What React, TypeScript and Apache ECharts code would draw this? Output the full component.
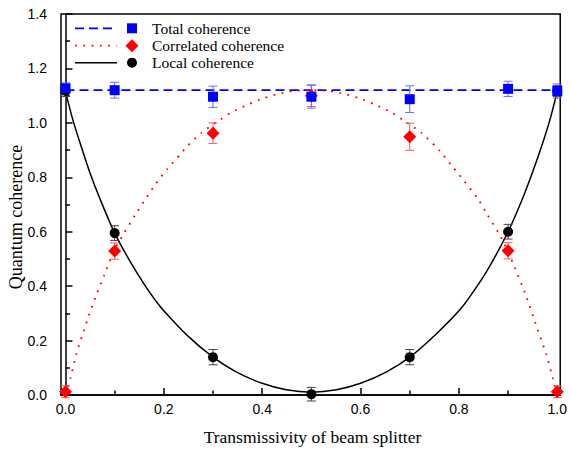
import React, { useEffect, useRef } from "react";
import * as echarts from "echarts";

// ---- data ----
const xPts = [0, 0.1, 0.3, 0.5, 0.7, 0.9, 1.0];

const totalVals = [1.127, 1.12, 1.096, 1.096, 1.087, 1.125, 1.117];
const totalErr = [0.02, 0.029, 0.039, 0.042, 0.049, 0.028, 0.026];

const corrVals = [0.012, 0.529, 0.962, 1.1, 0.949, 0.53, 0.012];
const corrErr = [0.022, 0.03, 0.038, 0.04, 0.05, 0.03, 0.022];

const localVals = [1.117, 0.595, 0.139, 0.003, 0.139, 0.6, 1.117];
const localErr = [0.02, 0.027, 0.028, 0.025, 0.028, 0.027, 0.02];

// fitted curves
const totalFitX = [0, 1];
const totalFitY = [1.12, 1.12];

const localFitX = [0, 0.015, 0.032, 0.05, 0.071, 0.1, 0.146, 0.193, 0.247, 0.3, 0.348, 0.4, 0.449, 0.5,
  0.551, 0.6, 0.652, 0.7, 0.756, 0.807, 0.854, 0.9, 0.929, 0.951, 0.968, 0.985, 1];
const localFitY = [1.115, 1.011, 0.913, 0.815, 0.717, 0.595, 0.447, 0.324, 0.22, 0.139, 0.084, 0.043, 0.019, 0.01,
  0.019, 0.043, 0.084, 0.139, 0.228, 0.324, 0.447, 0.6, 0.72, 0.825, 0.913, 1.011, 1.115];

const corrFitX = [0, 0.01, 0.022, 0.042, 0.061, 0.079, 0.1, 0.116, 0.142, 0.161, 0.183, 0.207, 0.234, 0.247, 0.277, 0.309,
  0.339, 0.372, 0.402, 0.432, 0.463, 0.5, 0.537, 0.568, 0.598, 0.628, 0.661, 0.691, 0.723, 0.753, 0.761, 0.787,
  0.8, 0.839, 0.858, 0.884, 0.91, 0.936, 0.958, 0.978, 0.991, 1];
const corrFitY = [0.0, 0.061, 0.15, 0.262, 0.36, 0.441, 0.535, 0.585, 0.662, 0.715, 0.775, 0.83, 0.886, 0.913, 0.964, 1.005,
  1.04, 1.068, 1.09, 1.106, 1.117, 1.12, 1.117, 1.106, 1.09, 1.068, 1.04, 1.005, 0.964, 0.913, 0.897, 0.839,
  0.811, 0.72, 0.662, 0.585, 0.484, 0.367, 0.251, 0.147, 0.061, 0.0];

const xMajor = [0, 0.2, 0.4, 0.6, 0.8, 1.0];
const xMinor = [0.1, 0.3, 0.5, 0.7, 0.9];

const legendItems = ["Total coherence", "Correlated coherence", "Local coherence"];
const xTitle = "Transmissivity of beam splitter";
const yTitle = "Quantum coherence";

const X_MIN = -0.0091;
const X_MAX = 1.006;

const SERIF = "'Liberation Serif', 'Times New Roman', serif";
const SANS = "'Liberation Sans', Arial, sans-serif";

function errSeries(vals: number[], errs: number[], color: string) {
  return {
    type: "custom",
    clip: false,
    z: 3,
    encode: { x: 0, y: 1 },
    data: xPts.map((x, i) => [x, vals[i], errs[i]]),
    renderItem: (params: any, api: any) => {
      const x = api.value(0);
      const y = api.value(1);
      const e = api.value(2);
      const p0 = api.coord([x, y - e]);
      const p1 = api.coord([x, y + e]);
      const hw = 4.5;
      const style = { stroke: color, lineWidth: 1, fill: "none" };
      return {
        type: "group",
        children: [
          { type: "line", shape: { x1: p0[0], y1: p0[1], x2: p1[0], y2: p1[1] }, style },
          { type: "line", shape: { x1: p0[0] - hw, y1: p0[1], x2: p0[0] + hw, y2: p0[1] }, style },
          { type: "line", shape: { x1: p1[0] - hw, y1: p1[1], x2: p1[0] + hw, y2: p1[1] }, style },
        ],
      };
    },
  };
}

export default function App() {
  const ref = useRef<HTMLDivElement>(null);
  useEffect(() => {
    if (!ref.current) return;
    const chart = echarts.init(ref.current, undefined, { renderer: "svg" });
    const axisLineStyle = { color: "#000", width: 1.5 };
    const legendY = [28.3, 45.7, 62.7];
    const legendFont = `15.5px ${SERIF}`;
    const option: any = {
      animation: false,
      backgroundColor: "#fff",
      grid: {
        left: 61, right: 6, top: 14, bottom: 56,
        show: true, borderColor: "#000", borderWidth: 1.5, backgroundColor: "transparent",
      },
      xAxis: [
        {
          type: "value", min: X_MIN, max: X_MAX, position: "bottom",
          axisLine: { show: true, lineStyle: axisLineStyle },
          axisTick: { show: true, inside: true, length: 7, customValues: xMajor, lineStyle: axisLineStyle },
          axisLabel: {
            customValues: xMajor, formatter: (v: number) => v.toFixed(1),
            color: "#000", fontFamily: SANS, fontSize: 14, margin: 7,
          },
          splitLine: { show: false },
        },
        {
          type: "value", min: X_MIN, max: X_MAX, position: "bottom", offset: 0,
          axisLine: { show: false },
          axisTick: { show: true, inside: true, length: 4.5, customValues: xMinor, lineStyle: axisLineStyle },
          axisLabel: { show: false },
          splitLine: { show: false },
        },
      ],
      yAxis: {
        type: "value", min: 0, max: 1.4, interval: 0.2,
        axisLine: { show: true, lineStyle: axisLineStyle },
        axisTick: { show: true, inside: true, length: 7, lineStyle: axisLineStyle },
        minorTick: { show: true, splitNumber: 2, length: 4.5, lineStyle: axisLineStyle },
        axisLabel: {
          formatter: (v: number) => v.toFixed(1),
          color: "#000", fontFamily: SANS, fontSize: 14, margin: 14,
        },
        splitLine: { show: false },
        minorSplitLine: { show: false },
      },
      series: [
        {
          type: "line", name: "Total fit", data: totalFitX.map((x, i) => [x, totalFitY[i]]),
          symbol: "none", z: 2,
          lineStyle: { color: "#0000ff", width: 1.8, type: [9, 5] },
        },
        {
          type: "line", name: "Correlated fit", data: corrFitX.map((x, i) => [x, corrFitY[i]]),
          symbol: "none", smooth: 0.2, z: 2,
          lineStyle: { color: "#ff0000", width: 1.8, type: [1.8, 6.5] },
        },
        {
          type: "line", name: "Local fit", data: localFitX.map((x, i) => [x, localFitY[i]]),
          symbol: "none", smooth: 0.2, z: 2,
          lineStyle: { color: "#000", width: 1.5 },
        },
        errSeries(localVals, localErr, "#444"),
        errSeries(corrVals, corrErr, "#ff5a5a"),
        errSeries(totalVals, totalErr, "#6b6bff"),
        {
          type: "scatter", name: legendItems[2], data: xPts.map((x, i) => [x, localVals[i]]),
          symbol: "circle", symbolSize: 10, z: 4, itemStyle: { color: "#000", opacity: 1 },
        },
        {
          type: "scatter", name: legendItems[1], data: xPts.map((x, i) => [x, corrVals[i]]),
          symbol: "diamond", symbolSize: 13, z: 5, itemStyle: { color: "#ff0000", opacity: 1 },
        },
        {
          type: "scatter", name: legendItems[0], data: xPts.map((x, i) => [x, totalVals[i]]),
          symbol: "rect", symbolSize: 10, z: 6, itemStyle: { color: "#0000ff", opacity: 1 },
        },
      ],
      graphic: [
        // legend
        { type: "line", shape: { x1: 75, y1: legendY[0], x2: 117, y2: legendY[0] },
          style: { stroke: "#0000ff", lineWidth: 1.8, lineDash: [9, 5] } },
        { type: "rect", shape: { x: 127, y: legendY[0] - 5, width: 10, height: 10 }, style: { fill: "#0000ff" } },
        { type: "text", x: 152, y: legendY[0],
          style: { text: legendItems[0], font: legendFont, fill: "#000", verticalAlign: "middle", align: "left" } },
        { type: "line", shape: { x1: 75, y1: legendY[1], x2: 117, y2: legendY[1] },
          style: { stroke: "#ff0000", lineWidth: 1.8, lineDash: [1.8, 6.5] } },
        { type: "polygon", shape: { points: [[132, legendY[1] - 6.5], [138.5, legendY[1]], [132, legendY[1] + 6.5], [125.5, legendY[1]]] },
          style: { fill: "#ff0000" } },
        { type: "text", x: 152, y: legendY[1],
          style: { text: legendItems[1], font: legendFont, fill: "#000", verticalAlign: "middle", align: "left" } },
        { type: "line", shape: { x1: 75, y1: legendY[2], x2: 117, y2: legendY[2] },
          style: { stroke: "#000", lineWidth: 1.5 } },
        { type: "circle", shape: { cx: 132, cy: legendY[2], r: 5 }, style: { fill: "#000" } },
        { type: "text", x: 152, y: legendY[2],
          style: { text: legendItems[2], font: legendFont, fill: "#000", verticalAlign: "middle", align: "left" } },
        // axis titles
        { type: "text", x: 312.5, y: 437,
          style: { text: xTitle, font: `17.5px ${SERIF}`, fill: "#000", align: "center", verticalAlign: "middle" } },
        { type: "text", x: 16, y: 217, rotation: Math.PI / 2,
          style: { text: yTitle, font: `18px ${SERIF}`, fill: "#000", align: "center", verticalAlign: "middle" } },
      ],
    };
    chart.setOption(option);
    return () => chart.dispose();
  }, []);
  return (
    <div
      ref={ref}
      style={{ position: "fixed", left: 0, top: 0, width: 570, height: 451, background: "#fff" }}
    />
  );
}
